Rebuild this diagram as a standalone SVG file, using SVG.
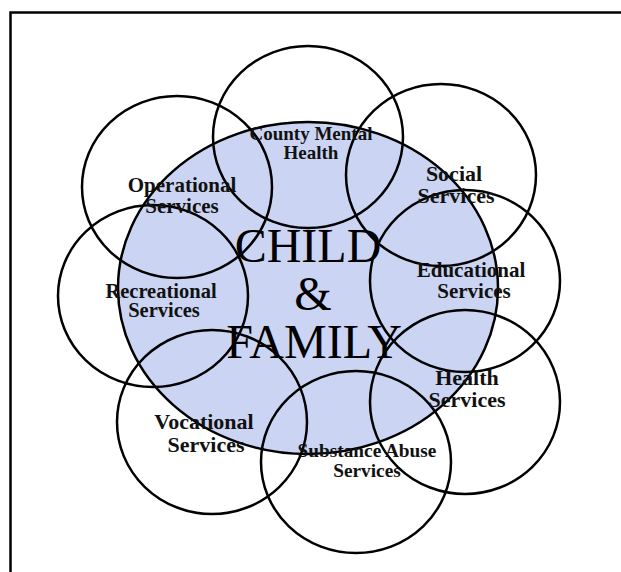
<svg xmlns="http://www.w3.org/2000/svg" width="621" height="572" viewBox="0 0 621 572">
<style>
.ring{fill:none;stroke:#000;stroke-width:2.5}
.lbl{font-family:"Liberation Serif","Times New Roman",serif;font-weight:bold;text-anchor:middle;fill:#111}
.big{font-family:"Liberation Serif","Times New Roman",serif;font-size:48px;text-anchor:middle;fill:#000}
</style>
<rect x="0" y="0" width="621" height="572" fill="#fff"/>
<rect x="10.5" y="12.5" width="700" height="700" fill="none" stroke="#000" stroke-width="2.5"/>
<g id="center">
<ellipse cx="308" cy="288" rx="190" ry="166" fill="#cbd5f3" stroke="#000" stroke-width="2.5"/>
</g>
<g id="connectors"></g>
<g id="county"><ellipse class="ring" cx="308" cy="137" rx="95" ry="91"/></g>
<g id="social"><ellipse class="ring" cx="441" cy="175" rx="95" ry="91"/></g>
<g id="operational"><ellipse class="ring" cx="177" cy="187" rx="95" ry="91"/></g>
<g id="recreational"><ellipse class="ring" cx="153" cy="296" rx="95" ry="91"/></g>
<g id="educational"><ellipse class="ring" cx="465" cy="281" rx="95" ry="91"/></g>
<g id="health"><ellipse class="ring" cx="465" cy="402" rx="95" ry="92"/></g>
<g id="vocational"><ellipse class="ring" cx="212" cy="422" rx="95" ry="92"/></g>
<g id="substance"><ellipse class="ring" cx="356" cy="462" rx="95" ry="91"/></g>
<g id="labels">
<text class="lbl" x="311" y="140" font-size="19">County Mental</text>
<text class="lbl" x="311" y="159" font-size="19">Health</text>
<text class="lbl" x="454" y="181" font-size="22">Social</text>
<text class="lbl" x="456" y="203" font-size="22">Services</text>
<text class="lbl" x="182" y="192" font-size="21">Operational</text>
<text class="lbl" x="182" y="213" font-size="21">Services</text>
<text class="lbl" x="161" y="298" font-size="20.5">Recreational</text>
<text class="lbl" x="164" y="317" font-size="20.5">Services</text>
<text class="lbl" x="471" y="277" font-size="21">Educational</text>
<text class="lbl" x="474" y="298" font-size="21">Services</text>
<text class="lbl" x="467" y="385" font-size="22">Health</text>
<text class="lbl" x="467" y="407" font-size="22">Services</text>
<text class="lbl" x="204" y="429" font-size="22">Vocational</text>
<text class="lbl" x="206" y="452" font-size="22">Services</text>
<text class="lbl" x="367" y="457" font-size="19.3">Substance Abuse</text>
<text class="lbl" x="367" y="477" font-size="19.3">Services</text>
<text class="big" x="308" y="262">CHILD</text>
<text class="big" x="313" y="310">&amp;</text>
<text class="big" x="314" y="358">FAMILY</text>
</g>
</svg>
